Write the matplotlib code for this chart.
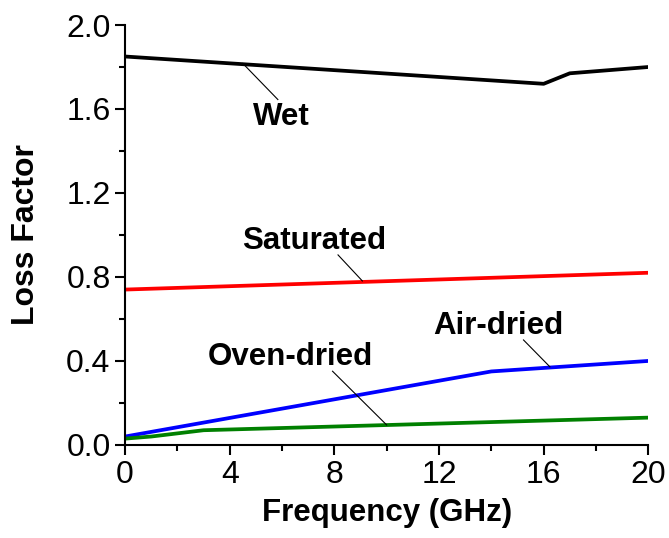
import matplotlib
matplotlib.use("Agg")
import matplotlib.pyplot as plt
from matplotlib.ticker import MultipleLocator

plt.rcParams['font.family'] = ['Liberation Sans', 'DejaVu Sans']

wet_x = [0, 16, 17, 20]
wet_y = [1.85, 1.72, 1.77, 1.80]
sat_x = [0, 20]
sat_y = [0.74, 0.82]
air_x = [0, 14, 20]
air_y = [0.04, 0.35, 0.40]
oven_x = [0, 1, 3, 20]
oven_y = [0.03, 0.04, 0.07, 0.13]

labels = ["Wet", "Saturated", "Air-dried", "Oven-dried"]
# (point on line, text position)
ann = [((4.5, 1.817), (5.97, 1.56)),
       ((9.07, 0.781), (7.23, 0.972)),
       ((16.24, 0.372), (14.27, 0.566)),
       ((10.0, 0.095), (6.31, 0.42))]

fig = plt.figure(figsize=(6.69, 5.38), dpi=100)
ax = fig.add_axes([0.187, 0.173, 0.782, 0.7805])

ax.plot(wet_x, wet_y, color='black', lw=2.7)
ax.plot(sat_x, sat_y, color='#ff0000', lw=2.7)
ax.plot(air_x, air_y, color='#0000ff', lw=2.7)
ax.plot(oven_x, oven_y, color='#008000', lw=2.7)

text_anchor = [(5.84, 1.645), (8.14, 0.905), (15.23, 0.50), (7.93, 0.351)]
for lab, (pt, tp), ta in zip(labels, ann, text_anchor):
    ax.plot([pt[0], ta[0]], [pt[1], ta[1]], color='black', lw=0.8)
    ax.text(tp[0], tp[1], lab, fontsize=22.5, fontweight='bold',
            ha='center', va='center')

ax.set_xlim(0, 20)
ax.set_ylim(0, 2.0)
ax.xaxis.set_major_locator(MultipleLocator(4))
ax.xaxis.set_minor_locator(MultipleLocator(2))
ax.yaxis.set_major_locator(MultipleLocator(0.4))
ax.yaxis.set_minor_locator(MultipleLocator(0.2))
ax.yaxis.set_major_formatter(matplotlib.ticker.FormatStrFormatter('%.1f'))

for s in ['top', 'right']:
    ax.spines[s].set_visible(False)
for s in ['left', 'bottom']:
    ax.spines[s].set_linewidth(1.5)

ax.tick_params(which='major', direction='out', length=7, width=1.5, labelsize=23)
ax.tick_params(which='minor', direction='out', length=4, width=1.5)

ax.set_xlabel("Frequency (GHz)", fontsize=22.5, fontweight='bold', labelpad=6)
ax.set_ylabel("Loss Factor", fontsize=23, fontweight='bold', labelpad=18)

fig.savefig("out.png", dpi=100)
